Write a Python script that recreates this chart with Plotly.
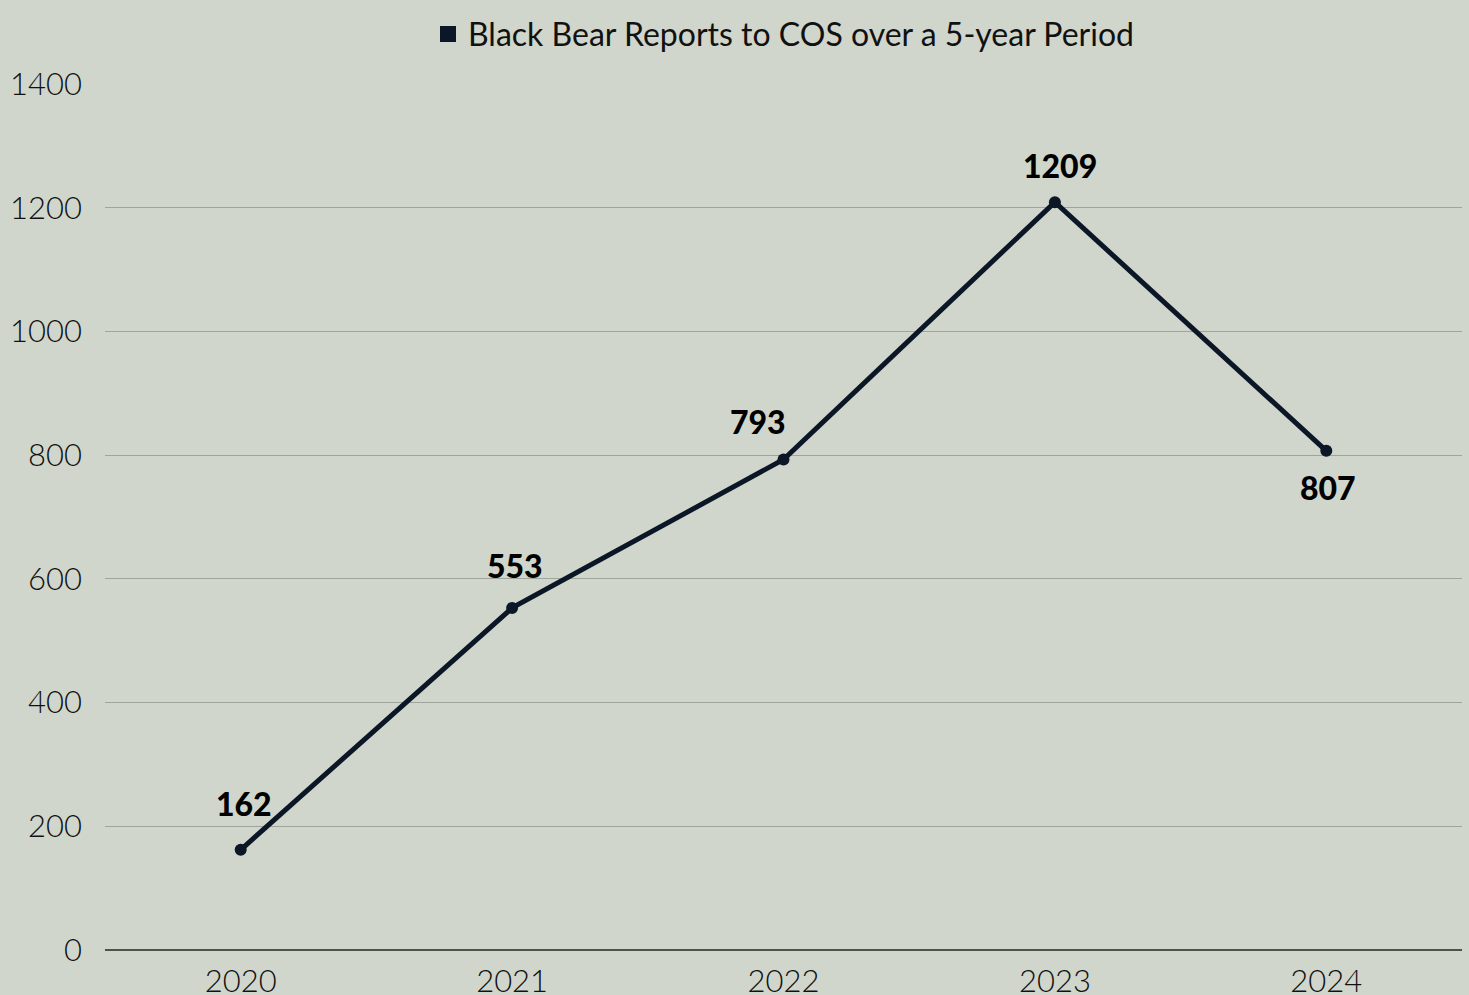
import plotly.graph_objects as go

years = ["2020", "2021", "2022", "2023", "2024"]
reports = [162, 553, 793, 1209, 807]
y_ticks = [0, 200, 400, 600, 800, 1000, 1200, 1400]

# label placement (style only): vertical/horizontal pixel offsets per point
label_dy = [46, 42, 38, 37, -37]
label_dx = [3, 3, -26, 5, 2]

LINE = "#0b1626"
BG = "#d0d6cb"
FONT = "Lato"

fig = go.Figure()
fig.add_trace(go.Scatter(
    x=years, y=reports, mode="lines+markers",
    line=dict(color=LINE, width=5),
    marker=dict(color=LINE, size=12),
    showlegend=False, hoverinfo="x+y",
))
fig.add_trace(go.Scatter(
    x=[None], y=[None], mode="markers",
    marker=dict(color=LINE, size=40, symbol="square"),
    name="Black Bear Reports to COS over a 5-year Period",
    showlegend=True,
))

for i, y in enumerate(reports):
    fig.add_annotation(x=i, y=y, xref="x", yref="y", text=str(y), showarrow=False,
                       yshift=label_dy[i], xshift=label_dx[i],
                       font=dict(family=FONT, size=32, color="#000000", weight=900))

fig.update_layout(
    width=1469, height=995,
    paper_bgcolor=BG, plot_bgcolor=BG,
    margin=dict(l=105, r=7, t=82, b=45),
    font=dict(family=FONT, size=31, color="#111111"),
    legend=dict(orientation="h", x=0.5, xanchor="center", y=1.0576, yanchor="middle",
                font=dict(family=FONT, size=32, color="#111111"),
                itemsizing="trace", bgcolor="rgba(0,0,0,0)"),
    xaxis=dict(type="category", range=[-0.5, 4.5], showgrid=False, showline=False,
               zeroline=False, tickfont=dict(family=FONT, size=31, weight=300),
               ticks="outside", ticklen=4, tickcolor="rgba(0,0,0,0)",
               automargin=False, fixedrange=True),
    yaxis=dict(range=[0, 1400], tickvals=y_ticks, showgrid=True, gridcolor="#9ea59a",
               gridwidth=1.2, zeroline=True, zerolinecolor="#4d524b", zerolinewidth=1.5,
               showline=False, ticks="", ticklabelstandoff=22, automargin=False,
               tickfont=dict(family=FONT, size=31, weight=300), fixedrange=True),
)

fig.write_html("out.html", config={"displayModeBar": False},
               post_script="document.body.style.margin='0';document.body.style.background='%s';" % BG)
